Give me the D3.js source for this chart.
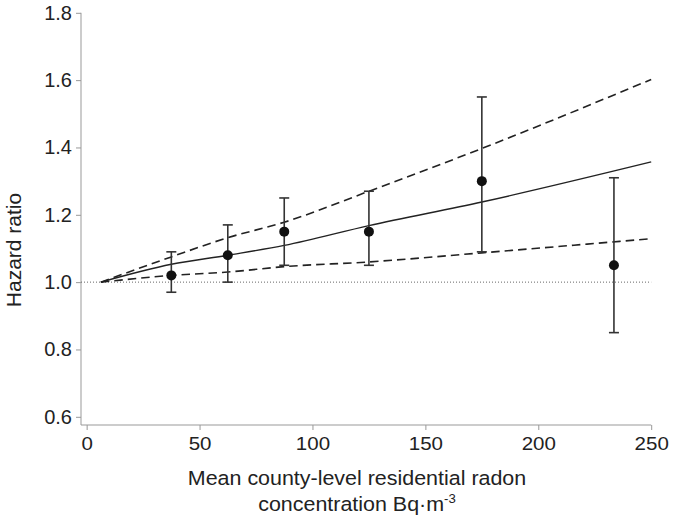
<!DOCTYPE html>
<html><head><meta charset="utf-8">
<script src="https://cdn.jsdelivr.net/npm/d3@7"></script>
<style>body{margin:0;background:#fff}svg{display:block}text{font-family:"Liberation Sans",Arial,sans-serif;fill:#222}</style>
</head><body><svg id="c" width="677" height="521"></svg>
<script>
// Observed categories (mean radon, Bq/m3) with hazard ratios and 95% CI
const pointX = [37.5, 62.5, 87.5, 125, 175, 233.5];
const pointHR = [1.02, 1.08, 1.15, 1.15, 1.30, 1.05];
const pointLo = [0.97, 1.00, 1.05, 1.05, 1.09, 0.85];
const pointHi = [1.09, 1.17, 1.25, 1.27, 1.55, 1.31];
// Fitted curve and confidence bounds
const curveX = [6.3, 37.5, 62.5, 87.5, 125, 175, 250];
const curveFit = [1.0, 1.053, 1.080, 1.109, 1.168, 1.238, 1.357];
const curveUpper = [1.0, 1.075, 1.132, 1.178, 1.270, 1.397, 1.602];
const curveLower = [1.0, 1.020, 1.030, 1.046, 1.060, 1.087, 1.129];
const xTicks = [0, 50, 100, 150, 200, 250];
const yTicks = [0.6, 0.8, 1.0, 1.2, 1.4, 1.6, 1.8];

const svg = d3.select("#c");
const x = d3.scaleLinear().domain([-2.5, 250]).range([81, 651.2]);
const y = d3.scaleLinear().domain([0.6, 1.8]).range([416.8, 12.8]);
const yBottom = 425;

const axisCol = "#999";
// y axis
const ya = svg.append("g").attr("transform", "translate(81,0)")
  .call(d3.axisLeft(y).tickValues(yTicks).tickFormat(d3.format(".1f")).tickSize(5).tickSizeOuter(0).tickPadding(4));
ya.select(".domain").remove();
ya.selectAll(".tick line").attr("stroke", axisCol);
ya.selectAll(".tick text").attr("font-size", "20px").style("fill", "#222");
svg.append("line").attr("x1", 81).attr("x2", 81).attr("y1", y(1.8)).attr("y2", yBottom).attr("stroke", axisCol);

// x axis
const xa = svg.append("g").attr("transform", `translate(0,${yBottom})`)
  .call(d3.axisBottom(x).tickValues(xTicks).tickSize(5).tickSizeOuter(0).tickPadding(7));
xa.select(".domain").remove();
xa.selectAll(".tick line").attr("stroke", axisCol);
xa.selectAll(".tick text").attr("font-size", "19px").attr("transform", "scale(1.08,1)").style("fill", "#222");
svg.append("line").attr("x1", 81).attr("x2", x(250)).attr("y1", yBottom).attr("y2", yBottom).attr("stroke", axisCol);

// reference line
svg.append("line").attr("x1", 81).attr("x2", x(250)).attr("y1", y(1)).attr("y2", y(1))
  .attr("stroke", "#666").attr("stroke-width", 1).attr("stroke-dasharray", "1,2");

const line = d3.line().curve(d3.curveMonotoneX);
function pts(vals){ return curveX.map((v,i)=>[x(v), y(vals[i])]); }
svg.append("path").attr("d", line(pts(curveFit))).attr("fill","none").attr("stroke","#222").attr("stroke-width",1.4);
[curveUpper, curveLower].forEach(v=>{
  svg.append("path").attr("d", line(pts(v))).attr("fill","none").attr("stroke","#222")
    .attr("stroke-width",1.6).attr("stroke-dasharray","8.5,5");
});

// error bars
const g = svg.append("g");
pointX.forEach((xv,i)=>{
  const cx = x(xv);
  g.append("line").attr("x1",cx).attr("x2",cx).attr("y1",y(pointLo[i])).attr("y2",y(pointHi[i])).attr("stroke","#333").attr("stroke-width",1.6);
  [pointLo[i], pointHi[i]].forEach(v=>{
    g.append("line").attr("x1",cx-5).attr("x2",cx+5).attr("y1",y(v)).attr("y2",y(v)).attr("stroke","#333").attr("stroke-width",1.6);
  });
  g.append("circle").attr("cx",cx).attr("cy",y(pointHR[i])).attr("r",5).attr("fill","#111");
});

// titles
svg.append("text").attr("transform","translate(20.5,250) rotate(-90)").attr("text-anchor","middle")
  .attr("font-size","21px").text("Hazard ratio");
const tg = svg.append("g").attr("transform","translate(357,0) scale(1.1,1)");
tg.append("text").attr("x",0).attr("y",485.5).attr("text-anchor","middle").attr("font-size","19.5px")
  .text("Mean county-level residential radon");
const t2 = tg.append("text").attr("x",0).attr("y",511.5).attr("text-anchor","middle").attr("font-size","19.5px");
t2.append("tspan").text("concentration Bq\u00B7m");
t2.append("tspan").attr("font-size","12px").attr("dy",-8).text("-3");
</script></body></html>
